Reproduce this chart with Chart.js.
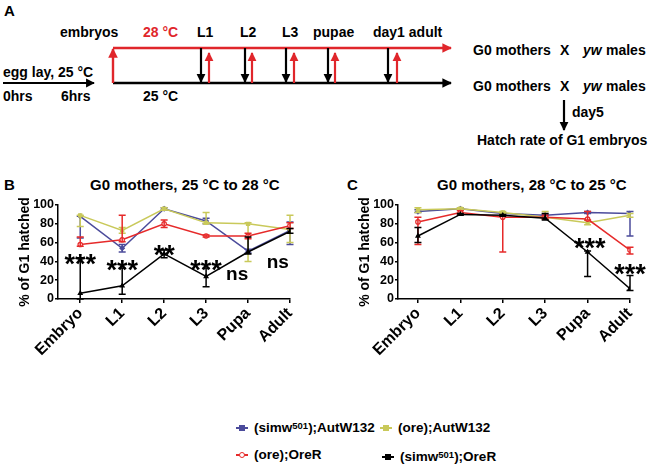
<!DOCTYPE html>
<html>
<head>
<meta charset="utf-8">
<script src="https://cdn.jsdelivr.net/npm/chart.js@4"></script>
<style>
  body { margin: 0; background: #fff; }
  #wrap { position: relative; width: 660px; height: 468px; font-family: "Liberation Sans", Arial, sans-serif; font-weight: bold; color: #000; }
  .abs { position: absolute; white-space: nowrap; }
  .title { font-size: 15px; }
  .letter { font-size: 15px; }
  .leg { font-size: 13.5px; display: flex; align-items: center; }
  .leg sup { font-size: 9.5px; position: relative; top: -2px; }
  .mk { display: inline-block; width: 12px; height: 10px; margin-right: 6px; position: relative; }
  .mk:before { content: ""; position: absolute; left: 0; right: 0; top: 4px; height: 2px; background: var(--c); }
  .mk:after { content: ""; position: absolute; left: 3px; top: 2px; width: 4px; height: 4px; border: 1px solid var(--c); background: var(--f); border-radius: var(--r); }
</style>
</head>
<body>
<div id="wrap">
  <svg class="abs" style="left:0;top:0" width="660" height="160" font-family="Liberation Sans, Arial, sans-serif" font-weight="bold" font-size="14">
    <defs>
      <marker id="hr" viewBox="0 0 10 10" refX="9" refY="5" markerWidth="4" markerHeight="4.5" orient="auto"><path d="M0,0 L10,5 L0,10 z" fill="#e0262b"/></marker>
      <marker id="hk" viewBox="0 0 10 10" refX="9" refY="5" markerWidth="4" markerHeight="4.5" orient="auto"><path d="M0,0 L10,5 L0,10 z" fill="#000"/></marker>
    </defs>
    <text x="4" y="16" font-size="15">A</text>
    <text x="60" y="37">embryos</text>
    <text x="143" y="37" fill="#e0262b">28 °C</text>
    <text x="197" y="37">L1</text>
    <text x="240" y="37">L2</text>
    <text x="282" y="37">L3</text>
    <text x="313" y="37">pupae</text>
    <text x="373" y="37">day1 adult</text>
    <text x="3" y="77">egg lay, 25 °C</text>
    <text x="3" y="101">0hrs</text>
    <text x="61" y="101">6hrs</text>
    <text x="143" y="101">25 °C</text>
    <line x1="3" y1="83" x2="94" y2="83" stroke="#000" stroke-width="2.2" marker-end="url(#hk)"/>
    <line x1="113" y1="48" x2="451" y2="48" stroke="#e0262b" stroke-width="2.4" marker-end="url(#hr)"/>
    <line x1="113" y1="83" x2="451" y2="83" stroke="#000" stroke-width="2.4" marker-end="url(#hk)"/>
    <line x1="113" y1="83" x2="113" y2="49" stroke="#e0262b" stroke-width="2.4" marker-end="url(#hr)"/>
    <g stroke="#000" stroke-width="2.2" marker-end="url(#hk)">
      <line x1="201" y1="48" x2="201" y2="82"/>
      <line x1="245" y1="48" x2="245" y2="82"/>
      <line x1="286" y1="48" x2="286" y2="82"/>
      <line x1="328" y1="48" x2="328" y2="82"/>
      <line x1="388" y1="48" x2="388" y2="82"/>
      <line x1="564" y1="100" x2="564" y2="130"/>
    </g>
    <g stroke="#e0262b" stroke-width="2.2" marker-end="url(#hr)">
      <line x1="209" y1="83" x2="209" y2="53"/>
      <line x1="252" y1="83" x2="252" y2="53"/>
      <line x1="294" y1="83" x2="294" y2="53"/>
      <line x1="335" y1="83" x2="335" y2="53"/>
      <line x1="397" y1="83" x2="397" y2="53"/>
    </g>
    <text x="473" y="55">G0 mothers</text><text x="560" y="55">X</text>
    <text x="583" y="55" font-style="italic">yw</text><text x="606" y="55">males</text>
    <text x="473" y="91">G0 mothers</text><text x="560" y="91">X</text>
    <text x="583" y="91" font-style="italic">yw</text><text x="606" y="91">males</text>
    <text x="572" y="117">day5</text>
    <text x="477" y="145">Hatch rate of G1 embryos</text>
  </svg>

  <div class="abs letter" style="left:4px;top:176px">B</div>
  <div class="abs title" style="left:90px;top:176px">G0 mothers, 25 °C to 28 °C</div>
  <div class="abs letter" style="left:347px;top:176px">C</div>
  <div class="abs title" style="left:437px;top:176px">G0 mothers, 28 °C to 25 °C</div>

  <div class="abs" style="left:0;top:170px;width:330px;height:210px"><canvas id="chartB"></canvas></div>
  <div class="abs" style="left:330px;top:170px;width:330px;height:210px"><canvas id="chartC"></canvas></div>

  <div class="abs leg" style="left:236px;top:420px"><span class="mk" style="--c:#4b4b9b;--f:#4b4b9b;--r:0"></span>(simw<sup>501</sup>);AutW132</div>
  <div class="abs leg" style="left:380px;top:420px"><span class="mk" style="--c:#c9c95a;--f:#c9c95a;--r:0"></span>(ore);AutW132</div>
  <div class="abs leg" style="left:236px;top:447px"><span class="mk" style="--c:#e62a2a;--f:#fff;--r:50%"></span>(ore);OreR</div>
  <div class="abs leg" style="left:382px;top:449px"><span class="mk" style="--c:#000;--f:#000;--r:0"></span>(simw<sup>501</sup>);OreR</div>
</div>

<script>
const categories = ["Embryo", "L1", "L2", "L3", "Pupa", "Adult"];
const yTicks = [0, 20, 40, 60, 80, 100];

// Panel B: 25 °C to 28 °C
const bBlue = [88, 54, 96, 83, 51, 73];
const bBlueErr = [[65, 88], [50, 58], [95, 97], [80, 86], [49, 53], [58, 82]];
const bYellow = [89, 73, 96, 81, 80, 74];
const bYellowErr = [[77, 89], [70, 76], [95, 97], [80, 92], [40, 81], [60, 89]];
const bRed = [58, 63, 80, 67, 67, 78];
const bRedErr = [[56, 66], [61, 89], [76, 84], [66, 68], [64, 70], [75, 81]];
const bBlack = [6, 14, 48, 24, 50, 72];
const bBlackErr = [[0, 44], [5, 33], [44, 52], [13, 33], [48, 66], [70, 75]];
const bSigText = ["***", "***", "**", "***", "ns", "ns"];
const bSigX = [0, 1, 2, 3, 3.74, 4.71];
const bSigY = [45, 38, 54, 38, 26, 38];

// Panel C: 28 °C to 25 °C
const cBlue = [93, 96, 91, 89, 92, 91];
const cBlueErr = [[92, 95], [95, 97], [90, 92], [88, 90], [91, 93], [67, 93]];
const cYellow = [95, 96, 92, 87, 81, 89];
const cYellowErr = [[92, 97], [95, 97], [91, 93], [85, 93], [79, 84], [87, 91]];
const cRed = [82, 92, 87, 87, 85, 52];
const cRedErr = [[58, 87], [90, 94], [50, 89], [85, 89], [84, 93], [48, 55]];
const cBlack = [67, 90, 89, 86, 50, 11];
const cBlackErr = [[60, 76], [89, 91], [88, 90], [84, 91], [24, 51], [9, 25]];
const cSigText = ["***", "***"];
const cSigX = [4.05, 5];
const cSigY = [62, 34];

const FONT = "'Liberation Sans', Arial, sans-serif";

const errorBars = {
  id: "errorBars",
  afterDatasetDraw(chart, args) {
    const ds = chart.data.datasets[args.index];
    const { ctx, scales: { x, y } } = chart;
    ctx.save();
    ctx.strokeStyle = ds.borderColor;
    ctx.lineWidth = 1.5;
    ds.err.forEach(([lo, hi], i) => {
      const px = x.getPixelForValue(i);
      const top = y.getPixelForValue(hi), bot = y.getPixelForValue(lo);
      ctx.beginPath();
      ctx.moveTo(px, top); ctx.lineTo(px, bot);
      ctx.moveTo(px - 3.5, top); ctx.lineTo(px + 3.5, top);
      ctx.moveTo(px - 3.5, bot); ctx.lineTo(px + 3.5, bot);
      ctx.stroke();
    });
    ctx.restore();
  }
};

const sigLabels = {
  id: "sigLabels",
  afterDraw(chart, args, opts) {
    const { ctx, scales: { x, y } } = chart;
    ctx.save();
    ctx.fillStyle = "#000";
    ctx.textAlign = "center";
    ctx.textBaseline = "alphabetic";
    opts.text.forEach((t, i) => {
      const px = x.getPixelForValue(opts.xs[i]);
      const py = y.getPixelForValue(opts.ys[i]);
      if (t === "ns") {
        ctx.font = "bold 19px " + FONT;
        ctx.fillText(t, px, py + 5);
      } else {
        ctx.font = "bold 27px " + FONT;
        ctx.fillText(t, px, py + 16);
      }
    });
    ctx.restore();
  }
};

function series(label, vals, err, color, style, bg) {
  return {
    label,
    data: vals.map((v, i) => ({ x: i, y: v })),
    err,
    borderColor: color,
    backgroundColor: bg || color,
    borderWidth: 1.5,
    pointStyle: style,
    pointRadius: 2.2,
    pointBorderWidth: 1.2,
    tension: 0
  };
}

function makeChart(id, sets, sig, padLeft, axisW, rightPad, firstMin) {
  return new Chart(document.getElementById(id), {
    type: "line",
    data: { datasets: sets },
    plugins: [errorBars, sigLabels],
    options: {
      responsive: true,
      maintainAspectRatio: false,
      animation: false,
      devicePixelRatio: 1,
      layout: { padding: { left: padLeft, top: 35, right: rightPad, bottom: 0 } },
      plugins: {
        legend: { display: false },
        tooltip: { enabled: false },
        sigLabels: sig
      },
      scales: {
        x: {
          type: "linear",
          min: firstMin,
          max: categories.length - 1,
          afterFit: (s) => { s.height = 81; },
          afterBuildTicks: (s) => { s.ticks = categories.map((c, i) => ({ value: i })); },
          grid: { drawOnChartArea: false, drawTicks: true, tickLength: 4, color: "#000", lineWidth: 1.5 },
          border: { display: true, color: "#000", width: 1.5 },
          ticks: {
            color: "#000",
            font: { family: FONT, size: 16, weight: "bold" },
            minRotation: 45,
            maxRotation: 45,
            padding: 1,
            callback: (v) => categories[v] ?? ""
          }
        },
        y: {
          min: 0,
          max: 100,
          afterFit: (s) => { s.width = axisW; },
          afterBuildTicks: (s) => { s.ticks = yTicks.map((v) => ({ value: v })); },
          grid: { drawOnChartArea: false, drawTicks: true, tickLength: 3, color: "#000", lineWidth: 1.5 },
          border: { display: true, color: "#000", width: 1.5 },
          title: {
            display: true,
            text: "% of G1 hatched",
            color: "#000",
            font: { family: FONT, size: 14, weight: "bold" },
            padding: 0
          },
          ticks: {
            color: "#000",
            font: { family: FONT, size: 12.5, weight: "bold" },
            padding: 1
          }
        }
      }
    }
  });
}

makeChart("chartB", [
  series("(simw501);OreR", bBlack, bBlackErr, "#000000", "triangle"),
  series("(ore);OreR", bRed, bRedErr, "#e62a2a", "circle", "#ffffff"),
  series("(ore);AutW132", bYellow, bYellowErr, "#c9c95a", "rect"),
  series("(simw501);AutW132", bBlue, bBlueErr, "#4b4b9b", "rectRot")
], { text: bSigText, xs: bSigX, ys: bSigY }, 17, 41, 40, -0.53);

makeChart("chartC", [
  series("(simw501);OreR", cBlack, cBlackErr, "#000000", "triangle"),
  series("(ore);OreR", cRed, cRedErr, "#e62a2a", "circle", "#ffffff"),
  series("(ore);AutW132", cYellow, cYellowErr, "#c9c95a", "rect"),
  series("(simw501);AutW132", cBlue, cBlueErr, "#4b4b9b", "rectRot")
], { text: cSigText, xs: cSigX, ys: cSigY }, 27, 41, 30, -0.47);
</script>
</body>
</html>
